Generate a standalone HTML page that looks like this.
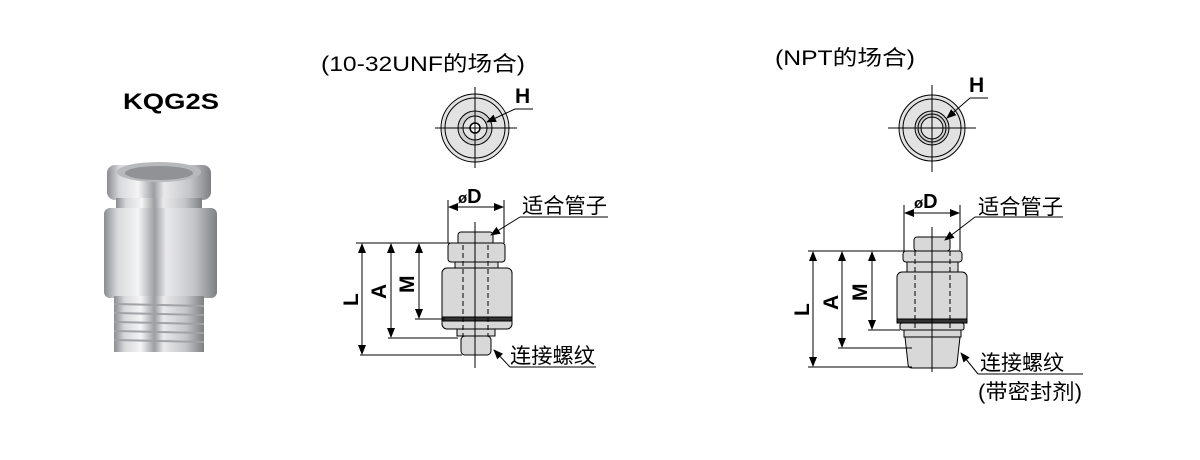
<!DOCTYPE html>
<html><head><meta charset="utf-8"><style>
html,body{margin:0;padding:0;background:#fff;}
svg{display:block;font-family:"Liberation Sans","Noto Sans CJK SC",sans-serif;}
</style></head><body>
<svg width="1200" height="460" viewBox="0 0 1200 460" xmlns="http://www.w3.org/2000/svg">
<defs>
<linearGradient id="met" x1="0" x2="1" y1="0" y2="0">
<stop offset="0" stop-color="#8a8c90"/><stop offset="0.12" stop-color="#d8d9dc"/><stop offset="0.3" stop-color="#f4f4f5"/><stop offset="0.45" stop-color="#9c9ea2"/><stop offset="0.55" stop-color="#e9e9eb"/><stop offset="0.8" stop-color="#c4c5c8"/><stop offset="1" stop-color="#7d7f83"/>
</linearGradient>
<marker id="ar" markerWidth="10" markerHeight="8" refX="9" refY="4" orient="auto" markerUnits="userSpaceOnUse"><path d="M0,0 L10,4 L0,8 z" fill="#000"/></marker>
</defs>
<text x="123" y="109" font-size="22" font-weight="bold" textLength="96" lengthAdjust="spacingAndGlyphs">KQG2S</text>
<text x="321" y="71" font-size="21" textLength="204" lengthAdjust="spacingAndGlyphs">(10-32UNF的场合)</text>
<text x="775" y="65" font-size="21" textLength="140" lengthAdjust="spacingAndGlyphs">(NPT的场合)</text>

<g>
<rect x="107" y="165" width="104" height="35" rx="8" fill="url(#met)"/>
<ellipse cx="159" cy="172" rx="42" ry="10" fill="#b8b9bc"/>
<ellipse cx="159" cy="173" rx="34" ry="7" fill="#909296"/>
<rect x="116" y="198" width="86" height="14" fill="url(#met)"/>
<rect x="104" y="208" width="113" height="90" rx="6" fill="url(#met)"/>
<rect x="114" y="296" width="90" height="56" fill="url(#met)"/>
<g stroke="#a0a2a6" stroke-width="2">
<line x1="114" y1="304" x2="204" y2="306"/><line x1="114" y1="313" x2="204" y2="315"/><line x1="114" y1="322" x2="204" y2="324"/><line x1="114" y1="331" x2="204" y2="333"/><line x1="114" y1="340" x2="204" y2="342"/>
</g>
</g>

<g fill="none" stroke="#000" stroke-width="1">
<circle cx="475" cy="128" r="34" fill="#e2e2e2"/>
<circle cx="475" cy="128" r="30"/>
<circle cx="475" cy="128" r="17" fill="#d0d0d0"/>
<circle cx="475" cy="128" r="12" fill="#e2e2e2"/>
<circle cx="475" cy="128" r="5" fill="#fff" stroke-width="1.5"/>
<line x1="435" y1="128" x2="517" y2="128"/>
<line x1="475" y1="87" x2="475" y2="168"/>
<line x1="533" y1="109" x2="515" y2="109"/>
<line x1="515" y1="109" x2="487" y2="122" marker-end="url(#ar)"/>
</g>
<text x="515" y="103" font-size="21" font-weight="bold">H</text>

<g stroke="#000" stroke-width="1" fill="#d8d8d8">
<rect x="458" y="232" width="35" height="13" rx="3"/>
<rect x="448" y="243" width="57" height="19" rx="3"/>
<rect x="455" y="262" width="43" height="6"/>
<rect x="442" y="268" width="70" height="61" rx="5"/>
<rect x="442" y="317" width="70" height="4" fill="#333"/>
<rect x="457" y="329" width="38" height="7"/>
<rect x="461" y="336" width="30" height="19" rx="4"/>
</g>
<g stroke="#000" stroke-width="1" fill="none">
<line x1="463" y1="245" x2="463" y2="336" stroke-dasharray="5,3"/>
<line x1="488" y1="245" x2="488" y2="336" stroke-dasharray="5,3"/>
<line x1="475" y1="222" x2="475" y2="368"/>
<line x1="448" y1="200" x2="448" y2="243"/>
<line x1="504" y1="200" x2="504" y2="243"/>
<line x1="458" y1="207" x2="449" y2="207" marker-end="url(#ar)"/>
<line x1="494" y1="207" x2="503" y2="207" marker-end="url(#ar)"/>
<line x1="458" y1="207" x2="494" y2="207"/>
<line x1="356" y1="243" x2="450" y2="243"/>
<line x1="415" y1="319" x2="445" y2="319"/>
<line x1="388" y1="338" x2="458" y2="338"/>
<line x1="360" y1="355" x2="462" y2="355"/>
<line x1="362" y1="300" x2="362" y2="244" marker-end="url(#ar)"/><line x1="362" y1="300" x2="362" y2="354" marker-end="url(#ar)"/>
<line x1="391" y1="290" x2="391" y2="244" marker-end="url(#ar)"/><line x1="391" y1="290" x2="391" y2="337" marker-end="url(#ar)"/>
<line x1="419" y1="280" x2="419" y2="244" marker-end="url(#ar)"/><line x1="419" y1="280" x2="419" y2="318" marker-end="url(#ar)"/>
<line x1="608" y1="217" x2="520" y2="217"/>
<line x1="520" y1="217" x2="491" y2="235" marker-end="url(#ar)"/>
<line x1="596" y1="367" x2="510" y2="367"/>
<line x1="510" y1="367" x2="494" y2="350" marker-end="url(#ar)"/>
</g>
<text x="458" y="203" font-size="20" font-weight="bold"><tspan font-size="15">ø</tspan>D</text>
<text x="522" y="213" font-size="21" textLength="85" lengthAdjust="spacingAndGlyphs">适合管子</text>
<text x="510" y="363" font-size="21" textLength="85" lengthAdjust="spacingAndGlyphs">连接螺纹</text>
<text transform="translate(358,306) rotate(-90)" font-size="21" font-weight="bold">L</text>
<text transform="translate(386,299) rotate(-90)" font-size="21" font-weight="bold">A</text>
<text transform="translate(414,293) rotate(-90)" font-size="21" font-weight="bold">M</text>

<g fill="none" stroke="#000" stroke-width="1">
<circle cx="932" cy="128" r="33" fill="#e2e2e2"/>
<circle cx="932" cy="128" r="29"/>
<circle cx="932" cy="128" r="17" fill="#d0d0d0"/>
<circle cx="932" cy="128" r="14"/>
<circle cx="932" cy="128" r="11" fill="#e2e2e2"/>
<line x1="888" y1="128" x2="976" y2="128"/>
<line x1="932" y1="85" x2="932" y2="172"/>
<line x1="988" y1="98" x2="970" y2="98"/>
<line x1="970" y1="98" x2="947" y2="118" marker-end="url(#ar)"/>
</g>
<text x="969" y="92" font-size="21" font-weight="bold">H</text>

<g stroke="#000" stroke-width="1" fill="#d8d8d8">
<rect x="914" y="237" width="36" height="14" rx="3"/>
<rect x="903" y="251" width="59" height="11" rx="3"/>
<rect x="907" y="262" width="51" height="10"/>
<rect x="897" y="272" width="70" height="50" rx="5"/>
<rect x="897" y="319" width="70" height="4" fill="#333"/>
<rect x="900" y="323" width="64" height="7" rx="2"/>
<rect x="904" y="330" width="57" height="7"/>
<path d="M905,337 L960,337 L957,364 Q956,368 952,368 L912,368 Q908,368 908,364 Z"/>
</g>
<g stroke="#000" stroke-width="1" fill="none">
<line x1="915" y1="251" x2="915" y2="330" stroke-dasharray="5,3"/>
<line x1="950" y1="251" x2="950" y2="330" stroke-dasharray="5,3"/>
<line x1="932" y1="227" x2="932" y2="372"/>
<line x1="904" y1="205" x2="904" y2="251"/>
<line x1="960" y1="205" x2="960" y2="251"/>
<line x1="915" y1="213" x2="905" y2="213" marker-end="url(#ar)"/>
<line x1="950" y1="213" x2="959" y2="213" marker-end="url(#ar)"/>
<line x1="915" y1="213" x2="950" y2="213"/>
<line x1="808" y1="251" x2="905" y2="251"/>
<line x1="868" y1="330" x2="900" y2="330"/>
<line x1="838" y1="348" x2="912" y2="348"/>
<line x1="808" y1="367" x2="912" y2="367"/>
<line x1="813" y1="310" x2="813" y2="252" marker-end="url(#ar)"/><line x1="813" y1="310" x2="813" y2="366" marker-end="url(#ar)"/>
<line x1="842" y1="300" x2="842" y2="252" marker-end="url(#ar)"/><line x1="842" y1="300" x2="842" y2="347" marker-end="url(#ar)"/>
<line x1="872" y1="290" x2="872" y2="252" marker-end="url(#ar)"/><line x1="872" y1="290" x2="872" y2="329" marker-end="url(#ar)"/>
<line x1="1063" y1="217" x2="975" y2="217"/>
<line x1="975" y1="217" x2="945" y2="240" marker-end="url(#ar)"/>
<line x1="1083" y1="374" x2="978" y2="374"/>
<line x1="978" y1="374" x2="961" y2="353" marker-end="url(#ar)"/>
</g>
<text x="914" y="208" font-size="20" font-weight="bold"><tspan font-size="15">ø</tspan>D</text>
<text x="978" y="214" font-size="21" textLength="85" lengthAdjust="spacingAndGlyphs">适合管子</text>
<text x="980" y="370" font-size="21" textLength="84" lengthAdjust="spacingAndGlyphs">连接螺纹</text>
<text x="978" y="399" font-size="21" textLength="104" lengthAdjust="spacingAndGlyphs">(带密封剂)</text>
<text transform="translate(809,316) rotate(-90)" font-size="21" font-weight="bold">L</text>
<text transform="translate(838,310) rotate(-90)" font-size="21" font-weight="bold">A</text>
<text transform="translate(867,301) rotate(-90)" font-size="21" font-weight="bold">M</text>
</svg>
</body></html>
